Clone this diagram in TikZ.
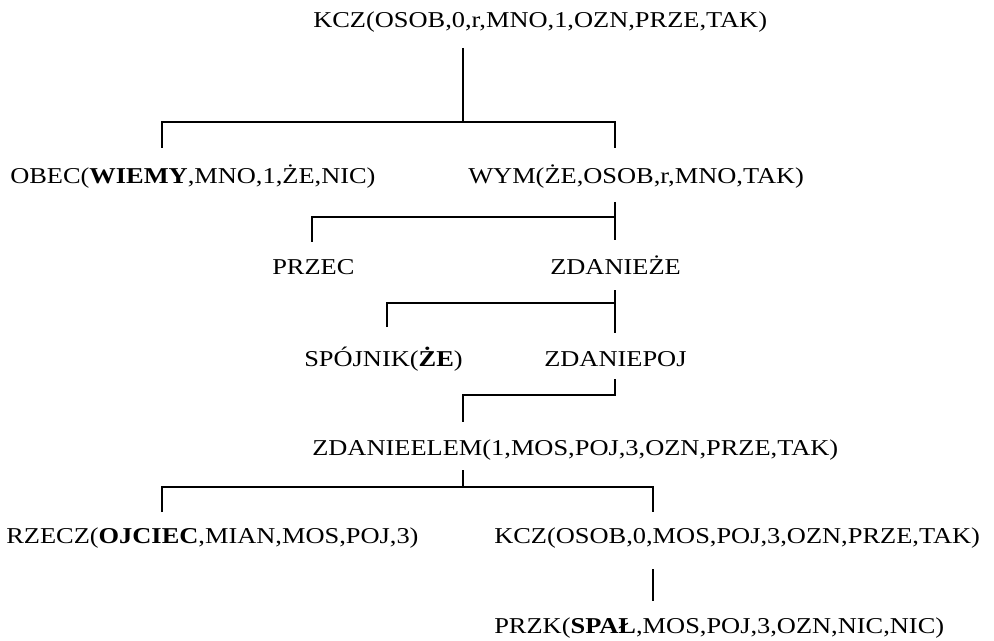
\documentclass[tikz,border=0pt]{standalone}
\usepackage{fontspec}
\setmainfont{Liberation Serif}[FakeStretch=1.165]
\begin{document}
\begin{tikzpicture}[x=0.75pt,y=-0.75pt,
  lbl/.style={anchor=base west,inner sep=0pt,font=\fontsize{17}{20}\selectfont},
  edge/.style={line width=1.5pt,line join=miter}]
\useasboundingbox (0,0) rectangle (994,641);
% nodes
\node[lbl] (kcz) at (313,28) {KCZ(OSOB,0,r,MNO,1,OZN,PRZE,TAK)};
\node[lbl] (obec) at (10,184) {OBEC(\textbf{WIEMY},MNO,1,ŻE,NIC)};
\node[lbl] (wym) at (468,184) {WYM(ŻE,OSOB,r,MNO,TAK)};
\node[lbl] (przec) at (272,274) {PRZEC};
\node[lbl] (zze) at (550,274) {ZDANIEŻE};
\node[lbl] (spoj) at (304,366) {SPÓJNIK(\textbf{ŻE})};
\node[lbl] (zpoj) at (544,366) {ZDANIEPOJ};
\node[lbl] (zelem) at (312,455) {ZDANIEELEM(1,MOS,POJ,3,OZN,PRZE,TAK)};
\node[lbl] (rzecz) at (6,543) {RZECZ(\textbf{OJCIEC},MIAN,MOS,POJ,3)};
\node[lbl] (kcz2) at (494,543) {KCZ(OSOB,0,MOS,POJ,3,OZN,PRZE,TAK)};
\node[lbl] (przk) at (494,633) {PRZK(\textbf{SPAŁ},MOS,POJ,3,OZN,NIC,NIC)};
% connector endpoints
\coordinate (a0) at (463,48);
\coordinate (a1) at (162,148);
\coordinate (a2) at (615,148);
\coordinate (b0) at (615,202);
\coordinate (b1) at (312,242);
\coordinate (b2) at (615,240);
\coordinate (c0) at (615,290);
\coordinate (c1) at (387,327);
\coordinate (c2) at (615,333);
\coordinate (d0) at (615,379);
\coordinate (d1) at (463,422);
\coordinate (e0) at (463,470);
\coordinate (e1) at (162,512);
\coordinate (e2) at (653,512);
\coordinate (f0) at (653,569);
\coordinate (f1) at (653,601);
% connectors
\draw[edge] (a0) -- (463,122);
\draw[edge] (a1) |- (a2 |- 0,122) -- (a2);
\draw[edge] (b1) |- (b0 |- 0,217);
\draw[edge] (b0) -- (b2);
\draw[edge] (c1) |- (c0 |- 0,303);
\draw[edge] (c0) -- (c2);
\draw[edge] (d0) |- (d1 |- 0,395) -- (d1);
\draw[edge] (e0) -- (463,487);
\draw[edge] (e1) |- (e2 |- 0,487) -- (e2);
\draw[edge] (f0) -- (f1);
\end{tikzpicture}
\end{document}
